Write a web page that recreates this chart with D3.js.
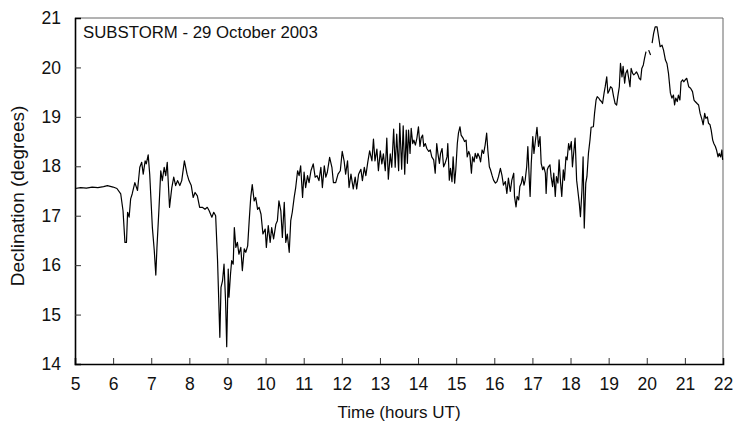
<!DOCTYPE html>
<html>
<head>
<meta charset="utf-8">
<script src="https://cdn.jsdelivr.net/npm/d3@7"></script>
<style>
  body { margin: 0; background: #fff; }
  svg { font-family: Arial, "Liberation Sans", sans-serif; }
</style>
</head>
<body>
<div id="chart"></div>
<script>
// Substorm declination record, 29 October 2003
const chartTitle = "SUBSTORM - 29 October 2003";
const xTicks = [5, 6, 7, 8, 9, 10, 11, 12, 13, 14, 15, 16, 17, 18, 19, 20, 21, 22];
const yTicks = [14, 15, 16, 17, 18, 19, 20, 21];

// time in hours UT
const timeHours = [
  5.00, 5.15, 5.30, 5.45, 5.60, 5.75, 5.85, 6.00, 6.10, 6.20,
  6.26, 6.31, 6.35, 6.38, 6.42, 6.46, 6.50, 6.57, 6.64, 6.70,
  6.75, 6.79, 6.84, 6.87, 6.92, 6.96, 7.03, 7.08, 7.12, 7.15,
  7.20, 7.25, 7.29, 7.34, 7.38, 7.42, 7.48, 7.54, 7.59, 7.64,
  7.69, 7.75, 7.80, 7.87, 7.94, 7.99, 8.05, 8.10, 8.15, 8.21,
  8.27, 8.34, 8.41, 8.47, 8.52, 8.59, 8.64, 8.69, 8.74, 8.80,
  8.83, 8.87, 8.91, 8.95, 8.98, 9.02, 9.04, 9.08, 9.11, 9.15,
  9.18, 9.22, 9.26, 9.30, 9.35, 9.39, 9.44, 9.48, 9.53, 9.57,
  9.61, 9.65, 9.70, 9.74, 9.79, 9.83, 9.88, 9.93, 9.99, 10.02,
  10.07, 10.12, 10.16, 10.21, 10.27, 10.31, 10.35, 10.40, 10.44, 10.49,
  10.53, 10.57, 10.62, 10.66, 10.70, 10.75, 10.79, 10.84, 10.88, 10.92,
  10.97, 11.01, 11.05, 11.10, 11.14, 11.19, 11.25, 11.30, 11.35, 11.40,
  11.45, 11.49, 11.54, 11.58, 11.62, 11.68, 11.74, 11.78, 11.84, 11.90,
  11.96, 12.01, 12.06, 12.10, 12.15, 12.19, 12.24, 12.30, 12.35, 12.39,
  12.44, 12.50, 12.54, 12.59, 12.63, 12.68, 12.73, 12.79, 12.83, 12.87,
  12.92, 12.96, 13.01, 13.05, 13.09, 13.14, 13.18, 13.22, 13.27, 13.31,
  13.36, 13.40, 13.44, 13.49, 13.52, 13.57, 13.61, 13.65, 13.69, 13.72,
  13.75, 13.79, 13.82, 13.86, 13.89, 13.93, 13.97, 14.01, 14.05, 14.08,
  14.12, 14.15, 14.19, 14.23, 14.28, 14.32, 14.36, 14.41, 14.45, 14.49,
  14.52, 14.56, 14.59, 14.63, 14.67, 14.71, 14.76, 14.78, 14.82, 14.85,
  14.89, 14.92, 14.96, 14.99, 15.03, 15.06, 15.10, 15.13, 15.18, 15.22,
  15.26, 15.29, 15.33, 15.36, 15.40, 15.43, 15.47, 15.50, 15.54, 15.57,
  15.61, 15.64, 15.68, 15.72, 15.76, 15.80, 15.83, 15.87, 15.90, 15.94,
  15.98, 16.03, 16.07, 16.11, 16.16, 16.20, 16.24, 16.29, 16.33, 16.37,
  16.42, 16.46, 16.51, 16.53, 16.57, 16.60, 16.64, 16.67, 16.71, 16.74,
  16.78, 16.81, 16.85, 16.88, 16.92, 16.94, 16.97, 17.01, 17.04, 17.07,
  17.12, 17.16, 17.20, 17.23, 17.27, 17.30, 17.34, 17.36, 17.39, 17.42,
  17.46, 17.49, 17.53, 17.56, 17.60, 17.63, 17.67, 17.70, 17.74, 17.77,
  17.81, 17.84, 17.88, 17.91, 17.95, 17.98, 18.02, 18.05, 18.09, 18.12,
  18.16, 18.19, 18.23, 18.26, 18.30, 18.33, 18.36, 18.40, 18.43, 18.47,
  18.51, 18.54, 18.60, 18.63, 18.67, 18.70, 18.74, 18.77, 18.81, 18.84,
  18.88, 18.91, 18.95, 18.98, 19.02, 19.05, 19.09, 19.13, 19.17, 19.21,
  19.24, 19.28, 19.31, 19.35, 19.38, 19.42, 19.45, 19.49, 19.52, 19.56,
  19.59, 19.63, 19.66, 19.70, 19.73, 19.77, 19.80, 19.84, 19.87, 19.91,
  19.94, 19.98, 20.01, 20.05, 20.10, 20.12, 20.14, 20.18, 20.22, 20.27,
  20.31, 20.35, 20.40, 20.44, 20.49, 20.53, 20.57, 20.62, 20.66, 20.70,
  20.73, 20.76, 20.80, 20.83, 20.87, 20.90, 20.94, 20.97, 21.01, 21.05,
  21.10, 21.15, 21.20, 21.24, 21.27, 21.32, 21.36, 21.40, 21.45, 21.48,
  21.52, 21.55, 21.59, 21.62, 21.66, 21.69, 21.73, 21.76, 21.80, 21.83,
  21.87, 21.90, 21.94, 21.97, 21.99
];

// declination in degrees (null = missing sample)
const declination = [
  17.55, 17.57, 17.56, 17.58, 17.57, 17.59, 17.61, 17.58, 17.55, 17.44,
  17.10, 16.46, 16.46, 17.07, 16.97, 17.34, 17.44, 17.67, 17.51, 17.98,
  18.08, 17.84, 18.11, 18.05, 18.23, 17.84, 16.76, 16.29, 15.80, 16.36,
  17.10, 17.91, 17.71, 17.98, 17.81, 18.08, 17.17, 17.57, 17.78, 17.61,
  17.71, 17.61, 17.71, 18.11, 17.84, 17.71, 17.61, 17.37, 17.47, 17.40,
  17.17, 17.17, 17.13, 17.17, 17.10, 16.97, 17.07, 17.00, 16.09, 14.54,
  15.55, 15.68, 16.02, 15.28, 14.35, 15.92, 15.35, 15.82, 16.09, 16.02,
  16.76, 16.36, 16.46, 16.22, 16.36, 15.89, 16.33, 16.26, 16.39, 16.90,
  17.37, 17.63, 17.30, 17.37, 17.13, 17.17, 17.03, 16.63, 16.73, 16.36,
  16.80, 16.46, 16.76, 16.53, 16.83, 16.90, 17.30, 17.10, 16.56, 17.27,
  16.46, 16.63, 16.26, 16.90, 17.07, 17.37, 17.57, 17.91, 17.81, 18.01,
  17.37, 17.88, 17.57, 17.81, 17.67, 17.91, 18.05, 17.78, 17.81, 17.71,
  17.98, 17.57, 18.01, 17.78, 17.88, 18.18, 17.98, 17.67, 17.67, 17.84,
  17.91, 18.30, 18.11, 17.84, 18.11, 17.57, 17.84, 17.54, 17.78, 17.54,
  17.84, 17.94, 17.71, 17.98, 17.81, 18.08, 18.31, 18.11, 18.55, 18.11,
  18.35, 17.91, 18.31, 18.05, 18.25, 17.91, 18.57, 17.74, 18.25, 17.98,
  18.75, 17.98, 18.65, 17.91, 18.87, 17.94, 18.82, 17.84, 18.73, 18.06,
  18.73, 18.26, 18.77, 18.46, 18.53, 18.43, 18.57, 18.80, 18.40, 18.57,
  18.63, 18.40, 18.46, 18.36, 18.30, 18.33, 18.19, 18.13, 17.86, 18.46,
  18.26, 18.06, 18.26, 18.36, 17.99, 18.06, 18.19, 18.46, 17.72, 17.96,
  17.69, 18.19, 17.66, 17.93, 18.46, 18.67, 18.80, 18.63, 18.57, 18.50,
  18.53, 18.19, 18.30, 18.23, 17.86, 18.19, 18.09, 18.26, 18.16, 18.26,
  18.19, 18.09, 18.33, 18.26, 18.43, 18.67, 18.33, 17.99, 17.93, 17.82,
  17.72, 17.66, 17.69, 17.79, 17.96, 17.82, 17.62, 17.69, 17.45, 17.76,
  17.49, 17.72, 17.86, 17.39, 17.18, 17.39, 17.32, 17.59, 17.66, 17.79,
  17.62, 17.72, 17.99, 18.40, 17.69, 17.39, 18.06, 18.60, 18.26, 18.46,
  18.79, 18.40, 18.60, 18.06, 17.93, 17.99, 17.86, 17.45, 17.93, 17.99,
  18.03, 17.79, 17.59, 17.86, 17.39, 17.79, 17.66, 18.13, 17.66, 17.39,
  17.93, 17.72, 18.19, 18.13, 18.46, 18.33, 18.50, 17.99, 18.33, 18.57,
  17.72, 17.52, 17.25, 16.98, 17.52, 18.19, 16.75, 17.66, 17.79, 18.26,
  18.53, 18.79, 18.80, 19.07, 19.34, 19.41, 19.38, 19.34, 19.31, 19.27,
  19.48, 19.61, 19.81, 19.48, 19.54, 19.61, 19.58, 19.41, 19.27, 19.24,
  19.41, 19.61, 20.08, 19.81, 20.02, 19.68, 19.88, 19.95, 19.81, 19.61,
  19.98, 19.88, 19.85, 19.88, 19.91, 19.85, 19.78, 19.75, 19.98, 20.05,
  20.18, 20.32, null, 20.35, 20.25, null, 20.49, 20.69, 20.82, 20.82,
  20.62, 20.42, 20.45, 20.35, 20.15, 20.08, 19.88, 19.48, 19.38, 19.44,
  19.24, 19.38, 19.31, 19.44, 19.34, 19.71, 19.75, 19.71, 19.75, 19.78,
  19.61, 19.58, 19.51, 19.34, 19.31, 19.27, 19.24, 19.07, 18.94, 18.84,
  19.07, 18.97, 19.00, 18.87, 18.84, 18.73, 18.53, 18.46, 18.40, 18.33,
  18.19, 18.26, 18.19, 18.33, 18.13
];

const width = 736;
const height = 434;
const margin = { top: 18, right: 13, bottom: 70, left: 75 };
const plotW = width - margin.left - margin.right;
const plotH = height - margin.top - margin.bottom;

const data = timeHours.map((t, i) => ({ t: t, v: declination[i] }));

const x = d3.scaleLinear().domain([5, 22]).range([0, plotW]);
const y = d3.scaleLinear().domain([14, 21]).range([plotH, 0]);

const svg = d3.select("#chart")
  .append("svg")
  .attr("width", width)
  .attr("height", height);

const g = svg.append("g")
  .attr("transform", "translate(" + margin.left + "," + margin.top + ")");

// frame: top/right lighter, left/bottom axes in black
g.append("line")
  .attr("x1", 0).attr("x2", plotW).attr("y1", 0).attr("y2", 0)
  .attr("stroke", "#666").attr("stroke-width", 1);
g.append("line")
  .attr("x1", plotW).attr("x2", plotW).attr("y1", 0).attr("y2", plotH)
  .attr("stroke", "#666").attr("stroke-width", 1);

// axes with inward ticks
const xAxis = d3.axisBottom(x).tickValues(xTicks).tickSize(-6).tickPadding(14).tickFormat(d3.format("d"));
const yAxis = d3.axisLeft(y).tickValues(yTicks).tickSize(-6).tickPadding(14).tickFormat(d3.format("d"));

const gx = g.append("g")
  .attr("transform", "translate(0," + plotH + ")")
  .call(xAxis);
const gy = g.append("g").call(yAxis);

[gx, gy].forEach(a => {
  a.select(".domain").attr("stroke", "#000").attr("stroke-width", 1.6);
  a.selectAll(".tick line").attr("stroke", "#333").attr("stroke-width", 1);
  a.selectAll(".tick text")
    .attr("fill", "#111")
    .style("font-size", "17.5px");
});
gx.selectAll(".tick line").filter(d => d === 5 || d === 22).remove();
gy.selectAll(".tick line").filter(d => d === 14 || d === 21).remove();

// data line
const line = d3.line()
  .defined(d => d.v !== null)
  .x(d => x(d.t))
  .y(d => y(d.v));

g.append("path")
  .datum(data)
  .attr("fill", "none")
  .attr("stroke", "#000")
  .attr("stroke-width", 1.2)
  .attr("stroke-linejoin", "round")
  .attr("d", line);

// title inside plot
g.append("text")
  .attr("x", 8)
  .attr("y", 20)
  .style("font-size", "16.8px")
  .attr("fill", "#111")
  .text(chartTitle);

// axis titles
svg.append("text")
  .attr("x", margin.left + plotW / 2)
  .attr("y", 418)
  .attr("text-anchor", "middle")
  .style("font-size", "17px")
  .attr("fill", "#111")
  .text("Time (hours UT)");

svg.append("text")
  .attr("transform", "translate(24," + (margin.top + plotH / 2 + 5) + ") rotate(-90)")
  .attr("text-anchor", "middle")
  .style("font-size", "19px")
  .attr("fill", "#111")
  .text("Declination (degrees)");
</script>
</body>
</html>
